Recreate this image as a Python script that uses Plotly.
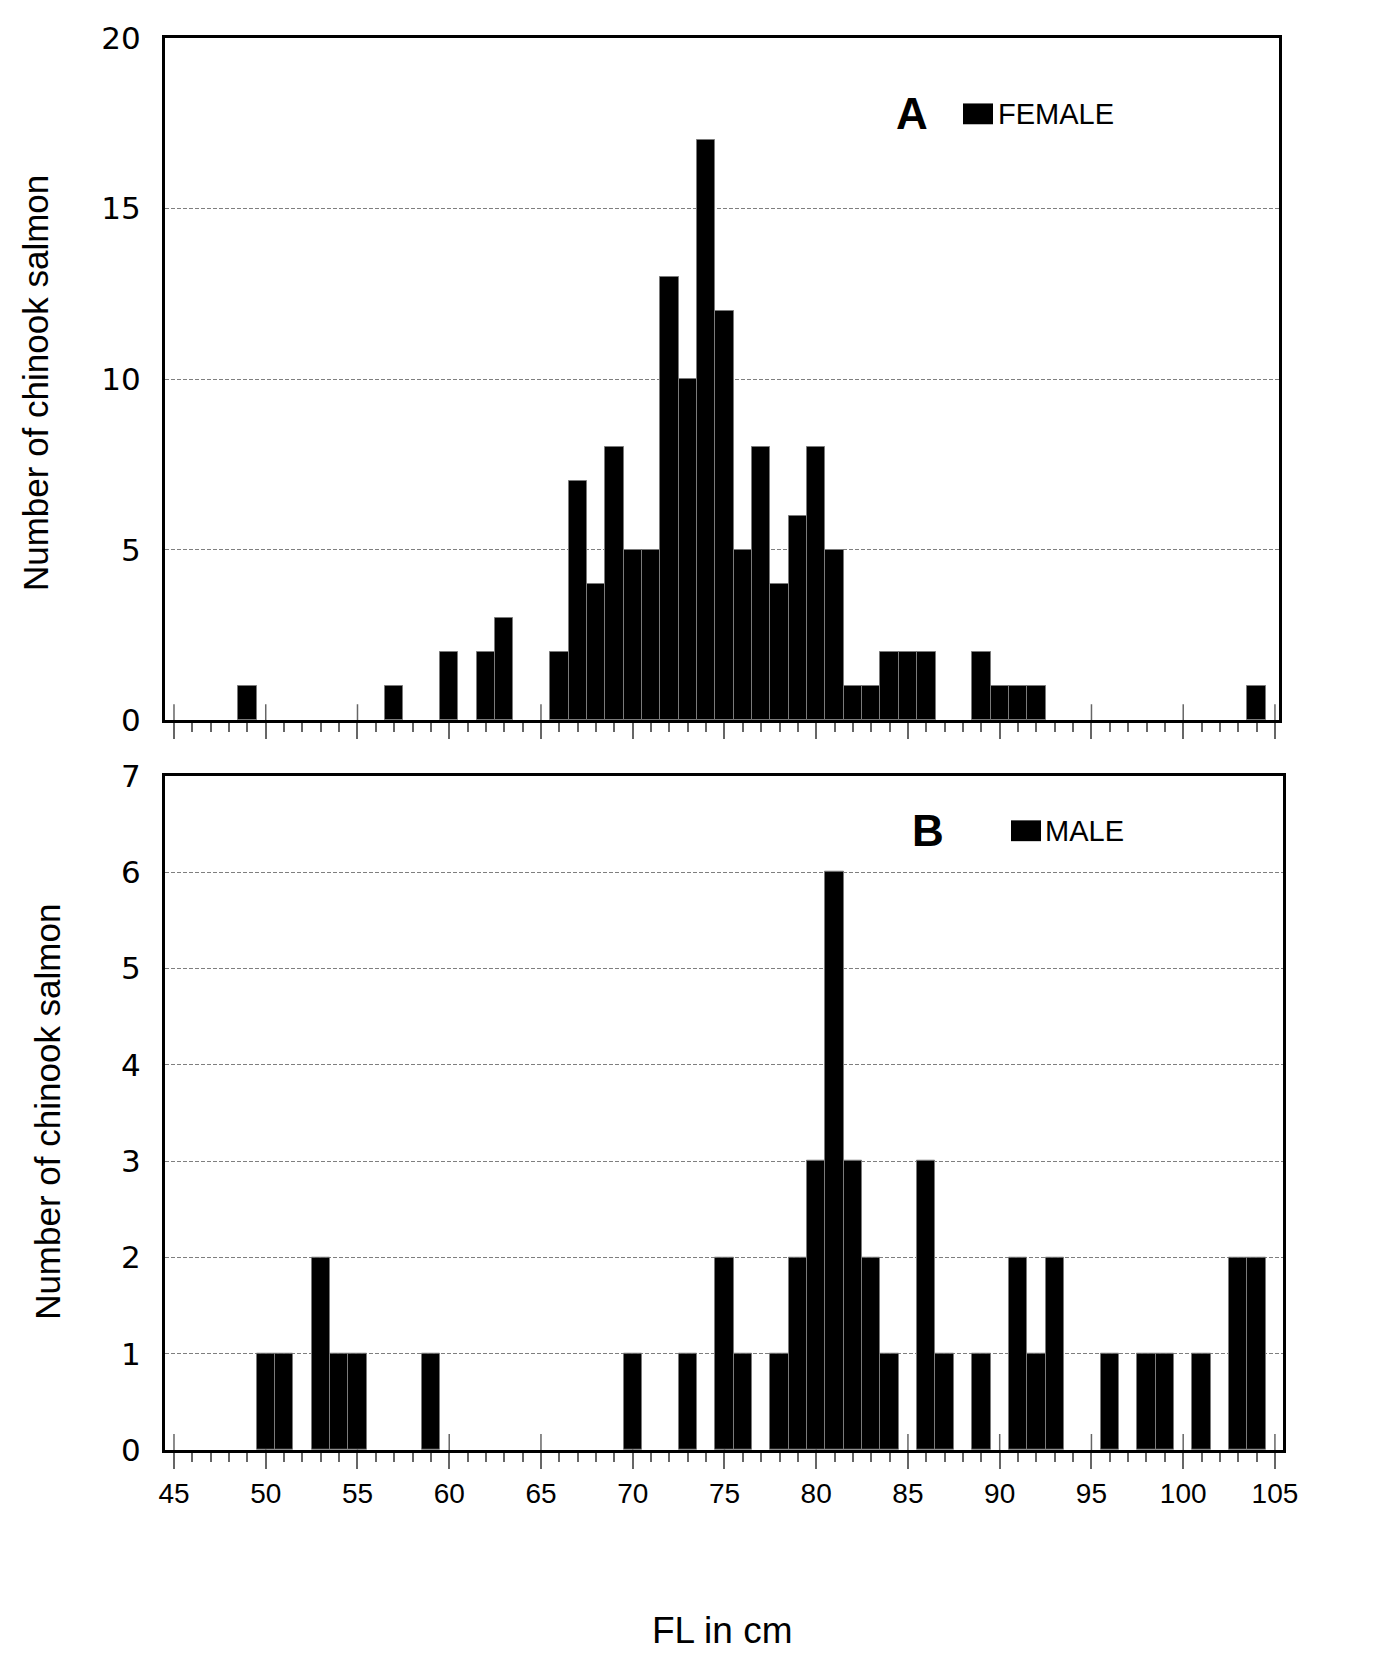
import plotly.graph_objects as go
from plotly.subplots import make_subplots

# fork length (cm) and counts
female_fl = [49, 57, 60, 62, 63, 66, 67, 68, 69, 70, 71, 72, 73, 74, 75, 76, 77,
             78, 79, 80, 81, 82, 83, 84, 85, 86, 89, 90, 91, 92, 104]
female_n = [1, 1, 2, 2, 3, 2, 7, 4, 8, 5, 5, 13, 10, 17, 12, 5, 8,
            4, 6, 8, 5, 1, 1, 2, 2, 2, 2, 1, 1, 1, 1]

male_fl = [50, 51, 53, 54, 55, 59, 70, 73, 75, 76, 78, 79, 80, 81, 82, 83, 84,
           86, 87, 89, 91, 92, 93, 96, 98, 99, 101, 103, 104]
male_n = [1, 1, 2, 1, 1, 1, 1, 1, 2, 1, 1, 2, 3, 6, 3, 2, 1,
          3, 1, 1, 2, 1, 2, 1, 1, 1, 1, 2, 2]

x_ticks = list(range(45, 106, 5))
W, H = 1380, 1653
L, R, T, B = 157, 1275, 18, 1442  # plot area in px


def px(x):
    return (x - L) / (R - L)


def py(y):
    return (B - y) / (B - T)


fig = make_subplots(rows=2, cols=1)

bar_style = dict(color="black", line=dict(color="#7a7a7a", width=1))
fig.add_trace(go.Bar(x=female_fl, y=female_n, width=1, marker=bar_style,
                     name="FEMALE", showlegend=False), row=1, col=1)
fig.add_trace(go.Bar(x=male_fl, y=male_n, width=1, marker=bar_style,
                     name="MALE", showlegend=False), row=2, col=1)

arial = "Liberation Sans, Arial, sans-serif"
wide = "DejaVu Sans, Verdana, sans-serif"

axis_common = dict(showline=True, linecolor="black", linewidth=3, mirror=True,
                   zeroline=False)
xaxis_common = dict(axis_common, tickmode="array", tickvals=x_ticks,
                    ticks="outside", ticklen=16, tickwidth=1.5, tickcolor="#666",
                    showgrid=False,
                    minor=dict(dtick=1, tick0=45, ticks="outside", ticklen=9,
                               tickwidth=1.5, tickcolor="#666", showgrid=False),
                    tickfont=dict(family=arial, size=28, color="black"))

fig.update_xaxes(xaxis_common, range=[44.51, 105.22], domain=[0, px(1271)],
                 showticklabels=False, row=1, col=1)
fig.update_xaxes(xaxis_common, range=[44.51, 105.44], domain=[0, 1],
                 ticktext=[str(v) for v in x_ticks], row=2, col=1)

yaxis_common = dict(axis_common, ticks="", showgrid=True, gridcolor="#7f7f7f",
                    gridwidth=1, griddash="4px,2px", ticklabelstandoff=15,
                    tickfont=dict(family=wide, size=31, color="black"))
fig.update_yaxes(yaxis_common, range=[0, 20], dtick=5, domain=[py(706), 1],
                 row=1, col=1)
fig.update_yaxes(yaxis_common, range=[0, 7], dtick=1, domain=[0, py(762)],
                 row=2, col=1)

# major ticks poke up through the x axis, hidden behind the bars
shapes = []
for xr, yr in (("x", "y"), ("x2", "y2")):
    for v in x_ticks:
        shapes.append(dict(type="line", xref=xr, yref=yr, ysizemode="pixel",
                           yanchor=0, x0=v, x1=v, y0=0, y1=16, layer="below",
                           line=dict(color="#666", width=1.5)))

# legend swatches
shapes.append(dict(type="rect", xref="paper", yref="paper",
                   x0=px(955), x1=px(985), y0=py(105), y1=py(84),
                   fillcolor="black", line=dict(width=0)))
shapes.append(dict(type="rect", xref="paper", yref="paper",
                   x0=px(1003), x1=px(1033), y0=py(828), y1=py(807),
                   fillcolor="black", line=dict(width=0)))

ann = [
    dict(text="<b>A</b>", x=px(904), y=py(94), font=dict(family=arial, size=44)),
    dict(text="FEMALE", x=px(988), y=py(95), xanchor="left",
         font=dict(family=arial, size=29)),
    dict(text="<b>B</b>", x=px(920), y=py(817), font=dict(family=arial, size=44)),
    dict(text="MALE", x=px(1035), y=py(818), xanchor="left",
         font=dict(family=arial, size=29)),
    dict(text="Number of chinook salmon", x=px(27), y=py(366), textangle=-90,
         font=dict(family=arial, size=35)),
    dict(text="Number of chinook salmon", x=px(40), y=py(1101), textangle=-90,
         font=dict(family=arial, size=35)),
    dict(text="FL in cm", x=px(714), y=py(1624), font=dict(family=arial, size=37)),
]
annotations = []
for a in ann:
    a.setdefault("xanchor", "center")
    a.update(xref="paper", yref="paper", yanchor="middle", showarrow=False)
    a["font"] = dict(a["font"], color="black")
    annotations.append(a)

fig.update_layout(
    width=W, height=H,
    margin=dict(l=L, r=W - R, t=T, b=H - B),
    plot_bgcolor="white", paper_bgcolor="white",
    bargap=0, showlegend=False,
    shapes=shapes, annotations=annotations,
)

fig.write_html("out.html")
